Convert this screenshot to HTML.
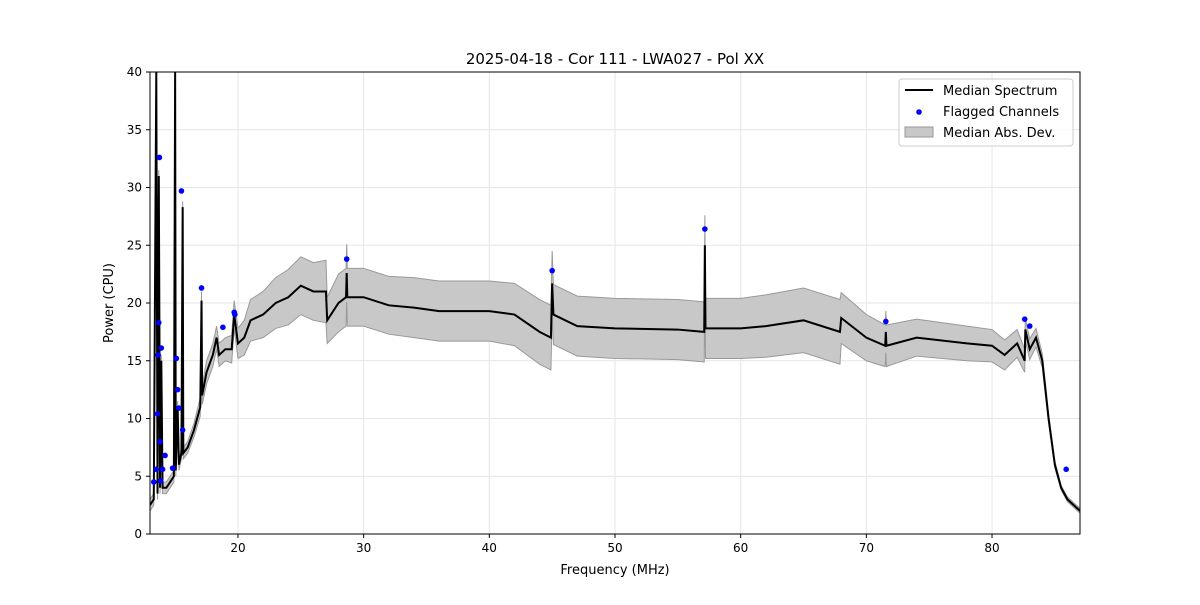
<!DOCTYPE html>
<html><head><meta charset="utf-8"><style>
body{margin:0;background:#fff;font-family:"Liberation Sans","DejaVu Sans",sans-serif}
svg text{font-family:"DejaVu Sans","Liberation Sans",sans-serif}
</style></head><body>
<svg id="chart" width="1200" height="600">
<rect width="1200" height="600" fill="#fff"/>
<text x="615" y="64" text-anchor="middle" font-size="15">2025-04-18 - Cor 111 - LWA027 - Pol XX</text>
<g id="grid"></g>
<g id="plot"></g>
<g id="axes"></g>
<text x="615" y="574" text-anchor="middle" font-size="13">Frequency (MHz)</text>
<text x="113" y="303" text-anchor="middle" font-size="13" transform="rotate(-90 113 303)">Power (CPU)</text>
<g>
<rect x="899" y="79" width="174" height="67" fill="#fff" fill-opacity="0.8" stroke="#ccc" rx="3"/>
<line x1="905" y1="90" x2="933" y2="90" stroke="#000" stroke-width="2"/>
<text x="943" y="95" font-size="13">Median Spectrum</text>
<circle cx="919" cy="112" r="2.8" fill="blue"/>
<text x="943" y="116" font-size="13">Flagged Channels</text>
<rect x="905" y="127" width="28" height="10" fill="#c8c8c8" stroke="#999"/>
<text x="943" y="137" font-size="13">Median Abs. Dev.</text>
</g>
</svg>
<script>
const freqs=[13.0,13.3,13.5,13.6,13.7,13.8,13.9,14.0,14.3,14.6,14.9,15.0,15.05,15.2,15.3,15.5,15.6,15.65,16,16.5,17.0,17.1,17.15,17.5,18,18.3,18.5,19,19.5,19.7,20,20.5,21,22,23,24,25,26,27,27.1,28,28.6,28.65,28.7,30,32,34,36,38,40,42,44,44.9,45,45.1,47,50,55,57.1,57.15,57.2,60,62,65,67.9,68,70,71.5,71.55,71.6,74,78,80,81,82,82.6,82.65,83,83.5,84,84.5,85,85.5,86,87];
const median=[2.5,3,40,3.5,31,4,15,4,4,4.5,5,40,5.5,11,6,7,28.3,7,7.5,9,11,20.2,12,14,15.5,17,15.5,16,16,19,16.5,17,18.5,19,20,20.5,21.5,21,21,18.5,20,20.5,22.6,20.5,20.5,19.8,19.6,19.3,19.3,19.3,19,17.5,17,21.7,19,18,17.8,17.7,17.5,25,17.8,17.8,18,18.5,17.5,18.7,17,16.3,17.5,16.3,17,16.5,16.3,15.5,16.5,15,17.7,16,17,15,10,6,4,3,2];
const mad=[0.5,0.5,0.5,0.5,0.5,0.5,0.5,0.5,0.5,0.5,0.5,0.5,0.5,0.5,0.5,0.5,0.5,0.5,0.5,0.6,0.8,0.8,0.8,1,1,1,1,1,1.2,1.2,1.3,1.5,1.8,2,2.2,2.4,2.5,2.5,2.7,2,2.5,2.5,2.5,2.5,2.5,2.5,2.6,2.6,2.6,2.6,2.7,2.8,2.8,2.8,2.6,2.6,2.6,2.6,2.6,2.6,2.6,2.6,2.7,2.8,2.8,2.2,2,1.8,1.8,1.8,1.6,1.5,1.4,1.3,1.2,1,1,0.9,0.8,0.6,0.4,0.3,0.2,0.2,0.2];
const flagF=[13.3,13.5,13.6,13.65,13.7,13.75,13.8,13.85,13.9,14.0,14.2,14.8,15.1,15.2,15.3,15.5,15.6,17.1,18.8,19.7,19.75,28.65,45.0,57.15,71.55,82.6,83.0,85.9];
const flagV=[4.5,5.6,10.4,15.5,18.3,32.6,8,4.6,16.1,5.6,6.8,5.7,15.2,12.5,10.9,29.7,9,21.3,17.9,19.2,19,23.8,22.8,26.4,18.4,18.6,18,5.6];
const xTicks=[20,30,40,50,60,70,80];
const yTicks=[0,5,10,15,20,25,30,35,40];
const X0=150,X1=1080,Y0=534,Y1=72,FMIN=13.0,FMAX=87.0,VMAX=40;
const xs=f=>X0+(f-FMIN)/(FMAX-FMIN)*(X1-X0);
const ys=v=>Y0-Math.min(v,VMAX+5)/VMAX*(Y0-Y1);
const NS='http://www.w3.org/2000/svg';
function mk(t,a,p){const e=document.createElementNS(NS,t);for(const k in a)e.setAttribute(k,a[k]);p.appendChild(e);return e;}
const grid=document.getElementById('grid'),plot=document.getElementById('plot'),axes=document.getElementById('axes');
xTicks.forEach(t=>{const x=xs(t);
const g=mk('line',{x1:x,x2:x,y1:Y1,y2:Y0,stroke:'#e6e6e6'},grid);


mk('line',{x1:x,x2:x,y1:Y0,y2:Y0+4,stroke:'#000'},axes);
const l=mk('text',{x:x,y:Y0+18,'text-anchor':'middle','font-size':'12'},axes);l.textContent=t;

});
yTicks.forEach(t=>{const y=ys(t);
const g=mk('line',{x1:X0,x2:X1,y1:y,y2:y,stroke:'#e6e6e6'},grid);


mk('line',{x1:X0-4,x2:X0,y1:y,y2:y,stroke:'#000'},axes);
const l=mk('text',{x:X0-8,y:y+4,'text-anchor':'end','font-size':'12'},axes);l.textContent=t;

});
mk('defs',{},plot).innerHTML='<clipPath id="cp"><rect x="150" y="72" width="930" height="462"/></clipPath>';
const cg=mk('g',{'clip-path':'url(#cp)'},plot);
let up=freqs.map((f,i)=>xs(f)+','+ys(median[i]+mad[i]));
let dn=freqs.map((f,i)=>xs(f)+','+ys(Math.max(0,median[i]-mad[i]))).reverse();
const band=mk('polygon',{points:up.concat(dn).join(' '),fill:'#c8c8c8',stroke:'#999','stroke-width':'1'},cg);


const line=mk('polyline',{points:freqs.map((f,i)=>xs(f)+','+ys(median[i])).join(' '),fill:'none',stroke:'#000','stroke-width':'2'},cg);


flagF.forEach((f,i)=>{const c=mk('circle',{cx:xs(f),cy:ys(flagV[i]),r:2.8,fill:'blue'},cg);

});
const fr=mk('rect',{x:X0,y:Y1,width:X1-X0,height:Y0-Y1,fill:'none',stroke:'#000','stroke-width':'1'},axes);


</script>
</body></html>
